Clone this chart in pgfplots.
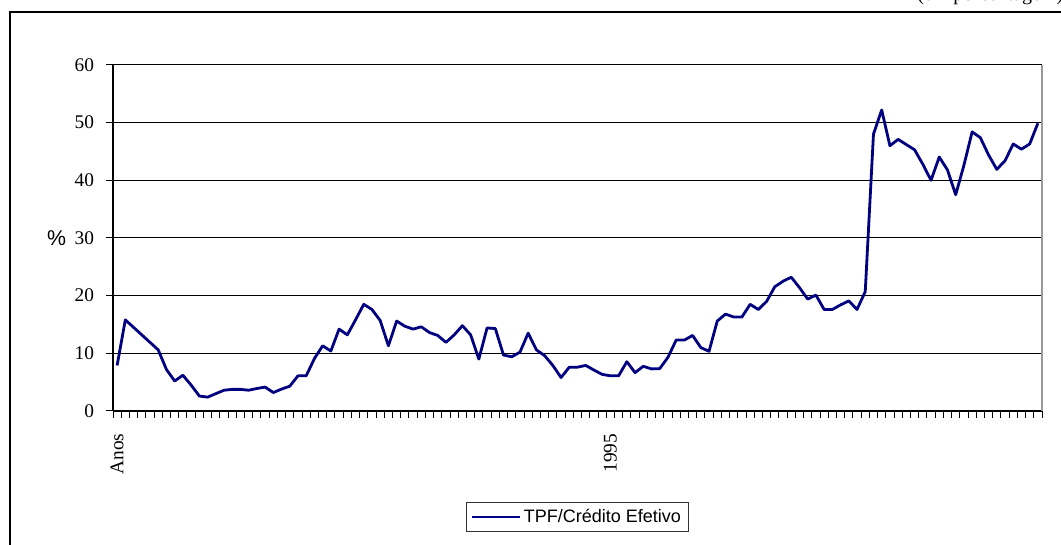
\documentclass[border=0pt]{standalone}
\usepackage{fontspec}
\setmainfont{Liberation Serif}
\newfontfamily\arial{Liberation Sans}
\usepackage{pgfplots}
\pgfplotsset{compat=1.18}
\usepackage{pgfplotstable}
\definecolor{navy}{RGB}{0,0,128}
\pgfplotstableread{
x y
0 7.9
1 15.8
2 14.5
3 13.2
4 11.9
5 10.6
6 7.2
7 5.2
8 6.2
9 4.5
10 2.6
11 2.4
12 3.0
13 3.6
14 3.75
15 3.75
16 3.6
17 3.9
18 4.15
19 3.2
20 3.8
21 4.3
22 6.1
23 6.1
24 9.1
25 11.3
26 10.4
27 14.2
28 13.2
29 15.8
30 18.5
31 17.6
32 15.7
33 11.3
34 15.6
35 14.7
36 14.2
37 14.6
38 13.6
39 13.1
40 11.9
41 13.2
42 14.8
43 13.2
44 9.0
45 14.4
46 14.3
47 9.7
48 9.4
49 10.2
50 13.5
51 10.6
52 9.6
53 7.9
54 5.8
55 7.6
56 7.6
57 7.9
58 7.1
59 6.35
60 6.1
61 6.1
62 8.55
63 6.65
64 7.75
65 7.3
66 7.35
67 9.3
68 12.3
69 12.3
70 13.1
71 11.0
72 10.35
73 15.6
74 16.8
75 16.3
76 16.3
77 18.5
78 17.6
79 19.0
80 21.55
81 22.5
82 23.2
83 21.4
84 19.4
85 20.1
86 17.6
87 17.6
88 18.4
89 19.1
90 17.6
91 20.7
92 48.0
93 52.2
94 46.0
95 47.1
96 46.2
97 45.3
98 42.8
99 40.0
100 44.05
101 41.8
102 37.5
103 42.6
104 48.4
105 47.4
106 44.4
107 41.9
108 43.4
109 46.3
110 45.4
111 46.3
112 49.9
}\datatable
\begin{document}
\begin{tikzpicture}
\useasboundingbox (0,0) rectangle (795.75pt,408.75pt);
\draw[line width=1.5pt] (7.5pt,-5pt) -- (7.5pt,399.75pt) -- (805pt,399.75pt);
\node[anchor=base west, inner sep=0pt, font=\fontsize{15}{18}\selectfont] at (687.75pt,408.6pt) {(em porcentagem)};
\begin{axis}[
  at={(84.75pt,100.5pt)}, anchor=south west,
  scale only axis, width=696.75pt, height=259.5pt,
  xmin=-0.5, xmax=112.5, ymin=0, ymax=60,
  separate axis lines, axis x line=bottom, axis y line=left,
  axis line style={-, black, line width=1pt},
  ytick={0,10,...,60},
  xtick={-0.5,0.5,...,112.5}, xticklabels={},
  extra x ticks={0,60}, extra x tick labels={Anos,1995},
  extra x tick style={major tick length=0pt, xticklabel style={rotate=90, anchor=east, xshift=-13.5pt}},
  tick align=outside, major tick length=5.25pt,
  tick style={black, line width=0.75pt},
  ymajorgrids, major grid style={black, line width=0.75pt},
  tick label style={font=\fontsize{14.5}{16}\selectfont},
  yticklabel style={xshift=-5.5pt},
  /pgf/number format/assume math mode=true,
  ylabel={\%},
  every axis y label/.style={at={(rel axis cs:0,0.5)}, anchor=east, xshift=-35pt, inner sep=0pt, font=\arial\fontsize{16}{18}\selectfont},
  legend style={at={(0.5,-0.306)}, anchor=center, draw=black!80, line width=0.75pt, font=\arial\fontsize{13.5}{16}\selectfont, inner xsep=4pt, inner ysep=3pt},
  legend image code/.code={\draw[#1, line width=1.3pt] (0pt,0pt) -- (36pt,0pt);},
  clip=false,
]
\addplot[color=navy, line width=2.1pt, mark=none, line join=round] table[x=x,y=y] {\datatable};
\addlegendentry{TPF/Crédito Efetivo}
\draw[gray!80, line width=1pt] (rel axis cs:1,0) -- (rel axis cs:1,1);
\end{axis}
\end{tikzpicture}
\end{document}
